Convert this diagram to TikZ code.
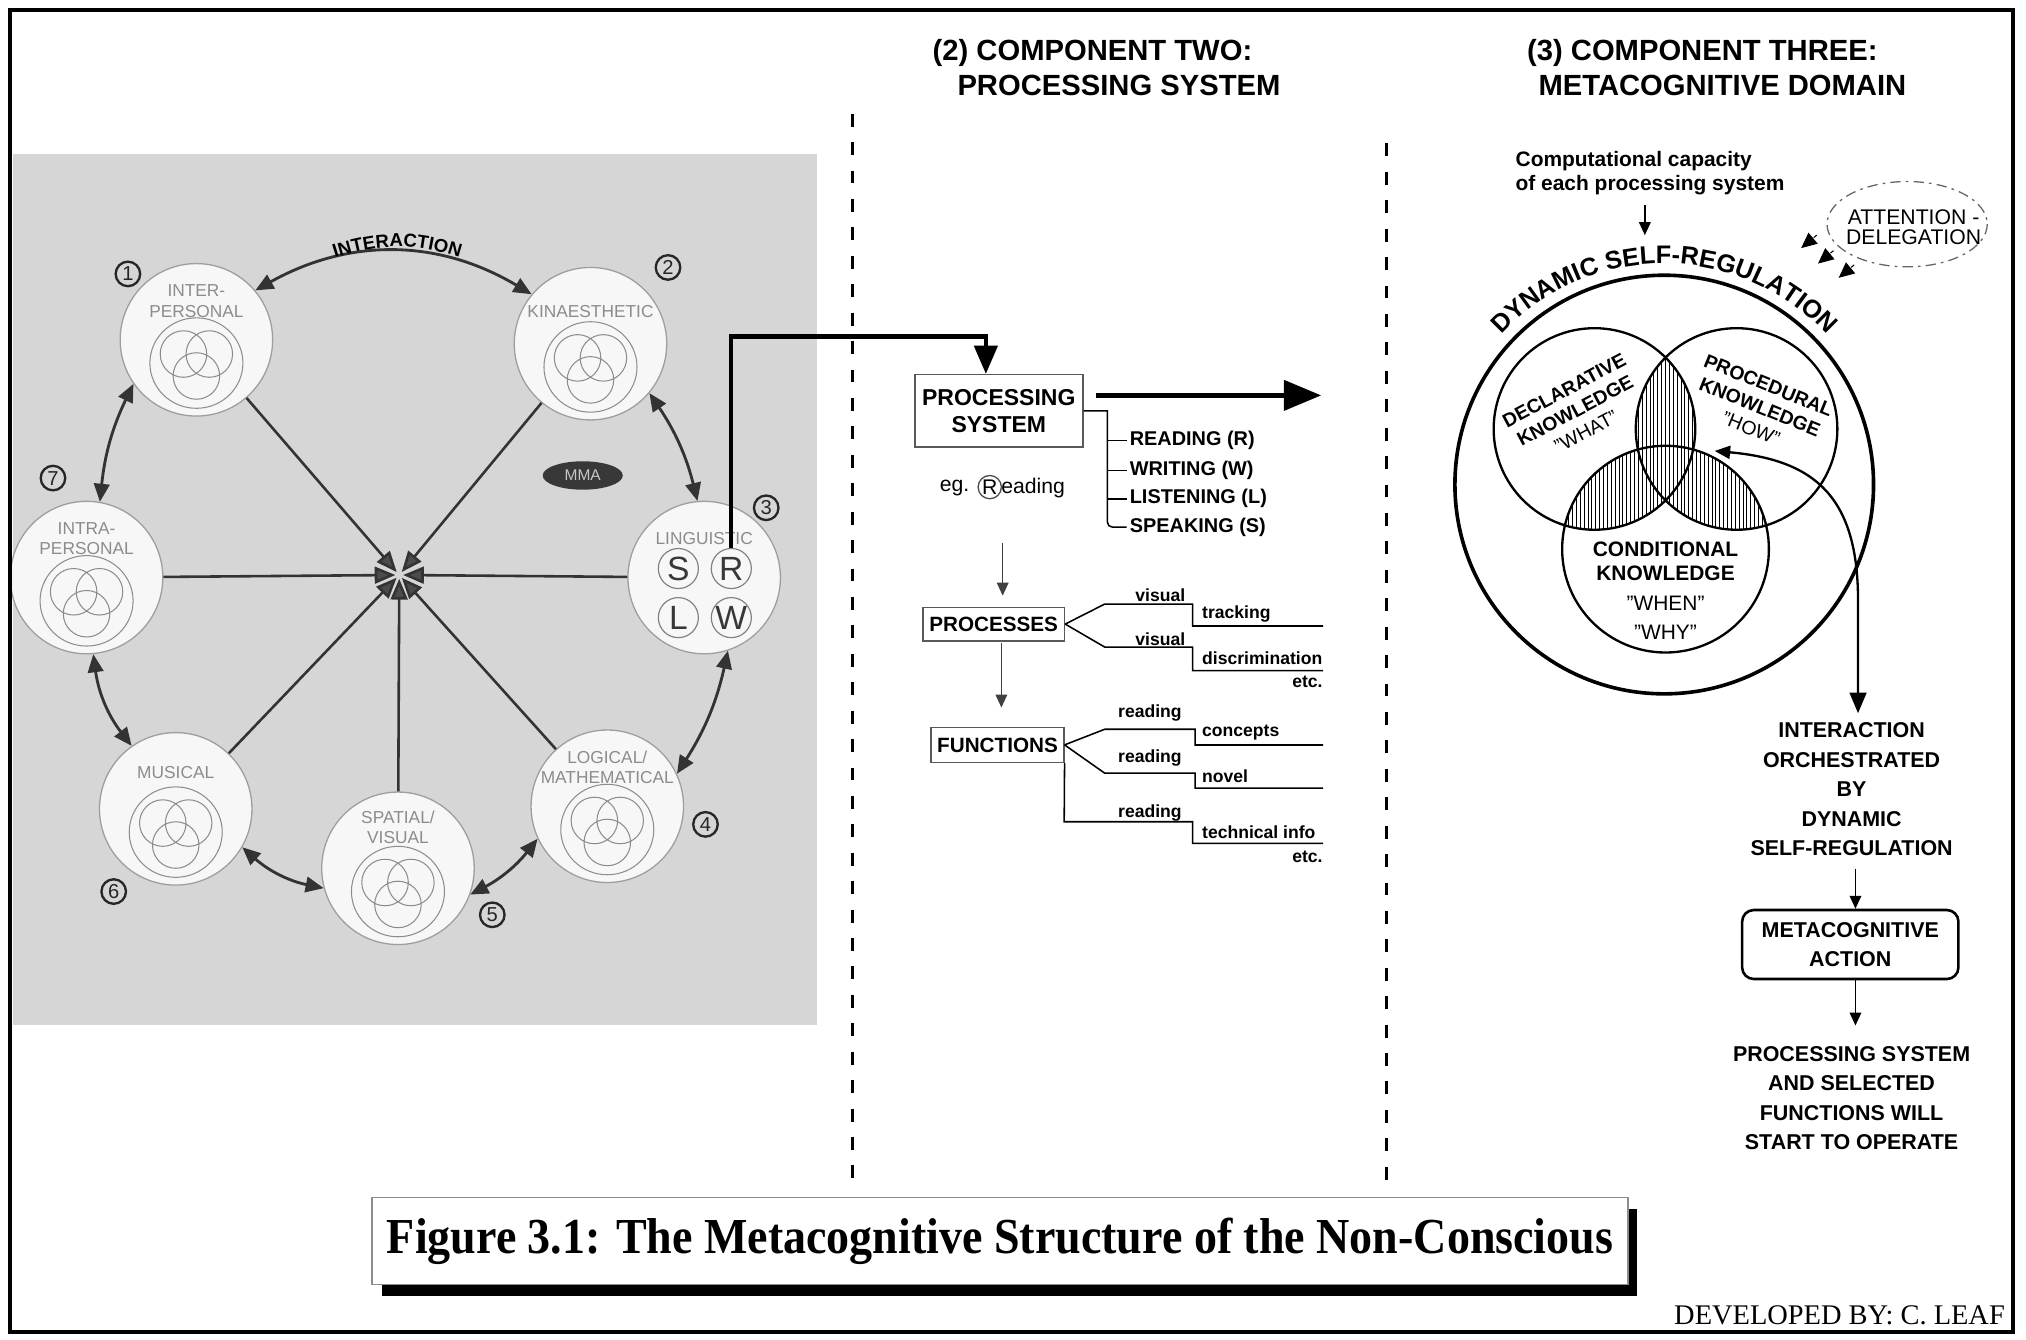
\documentclass[tikz,border=0pt]{standalone}
\usepackage{fontspec}
\setmainfont{Liberation Sans}
\newfontfamily\titleserif{Liberation Serif}
\usetikzlibrary{arrows.meta,shapes.geometric,decorations.text,calc}
\newcommand\fsz[2]{\fontsize{#1}{#2}\selectfont}

\begin{document}
\begin{tikzpicture}[x=0.5pt,y=-0.5pt,
  bubble/.style={ellipse, draw=black!38, line width=0.5pt, fill=black!3,
    minimum width=59pt, minimum height=59pt, inner sep=0pt},
  bublabel/.style={text=black!45, font=\fsz{6.7}{7.8}, align=center, inner sep=0pt},
  venn/.style={draw=black!45, line width=0.4pt},
  numc/.style={circle, draw=black!85, line width=0.9pt, minimum size=9.5pt,
    inner sep=0pt, font=\fsz{7.8}{8}, text=black!85},
  letc/.style={circle, draw=black!50, line width=0.45pt, minimum size=15.5pt,
    inner sep=0pt, font=\fsz{13}{13}, text=black!78},
  link/.style={draw=black!80, line width=1.1pt,
    {Triangle[length=7pt,width=6pt]}-{Triangle[length=7pt,width=6pt]}},
  spoke/.style={draw=black!80, line width=1pt,
    -{Triangle[length=8pt,width=6.5pt,fill=black!70]}, shorten >=1.5pt},
  bigconn/.style={line width=1.6pt, -{Triangle[length=11pt,width=9pt]}},
  widearrow/.style={line width=2pt, -{Triangle[length=14.5pt,width=11.5pt]}},
  thinarrow/.style={draw=black!75, line width=0.5pt, -{Triangle[length=5pt,width=4.5pt]}},
  branch/.style={line width=0.6pt},
  sbox/.style={draw=black!65, line width=0.6pt, inner sep=0pt, font=\bfseries\fsz{8}{10.5}, align=center},
  item/.style={font=\bfseries\fsz{7.7}{9}, anchor=west, inner sep=0pt},
  small/.style={font=\bfseries\fsz{6.8}{8}, inner sep=0pt},
  head/.style={font=\bfseries\fsz{11.3}{13}, inner sep=0pt},
  col/.style={font=\bfseries\fsz{8.3}{11.4}, align=center, inner sep=0pt},
  sep/.style={line width=1.1pt, dash pattern=on 5pt off 6pt},
  hatch/.style={line width=0.35pt},
]
\useasboundingbox (0,0) rectangle (1568,1037);
\fill[white] (0,0) rectangle (1568,1037);

% ---------------- component one: the seven intelligences ----------------
\fill[black!16] (10,119) rectangle (632,793);
\coordinate (hub) at (309,445);

\node[bubble] (c1) at (152,263) {};
\node[bubble] (c2) at (457,266) {};
\node[bubble] (c3) at (545,447) {};
\node[bubble] (c4) at (470,624) {};
\node[bubble] (c5) at (308,672) {};
\node[bubble] (c6) at (136,626) {};
\node[bubble] (c7) at (67,447) {};

% small Venn emblem inside each bubble
\foreach \c in {c1,c2,c4,c5,c6,c7}{
  \begin{scope}[shift={(\c)}]
    \draw[venn] (0,18) ellipse [x radius=36, y radius=35];
    \draw[venn] (-10,11) circle [radius=18] (10,11) circle [radius=18] (0,28) circle [radius=18];
  \end{scope}}

\node[bublabel] at ($(c1)+(0,-30)$) {INTER-\\PERSONAL};
\node[bublabel] at ($(c2)+(0,-25)$) {KINAESTHETIC};
\node[bublabel] at ($(c3)+(0,-30)$) {LINGUISTIC};
\node[bublabel] at ($(c4)+(0,-30)$) {LOGICAL/\\MATHEMATICAL};
\node[bublabel] at ($(c5)+(0,-32)$) {SPATIAL/\\VISUAL};
\node[bublabel] at ($(c6)+(0,-28)$) {MUSICAL};
\node[bublabel] at ($(c7)+(0,-30)$) {INTRA-\\PERSONAL};

% the four language systems
\node[letc] (Sc) at (525,440) {S};
\node[letc] (Rc) at (566,440) {R};
\node[letc] (Lc) at (525,478) {L};
\node[letc] (Wc) at (566,478) {W};

% spokes into the centre
\foreach \c in {c1,c2,c3,c4,c5,c6,c7}
  \draw[spoke] (\c) -- (hub);

% interactions between neighbours
\draw[link] (c1.40) to[bend left=30] (c2.140);
\draw[link] (c1.215) to[bend right=10] (c7.80);
\draw[link] (c7.-85) to[bend right=15] (c6.125);
\draw[link] (c6.-30) to[bend right=15] (c5.195);
\draw[link] (c5.-20) to[bend right=12] (c4.205);
\draw[link] (c4.25) to[bend right=10] (c3.-72);
\draw[link] (c3.95) to[bend right=10] (c2.-40);

\path[decorate, decoration={text along path, text align=center,
  text={|\bfseries\fsz{7.2}{8}|INTERACTION}}] (258,200) to[bend left=18] (357,200);

\node[numc] (n1) at (99,212) {1};
\node[numc] (n2) at (517,207) {2};
\node[numc] (n3) at (593,393) {3};
\node[numc] (n4) at (546,638) {4};
\node[numc] (n5) at (381,708) {5};
\node[numc] (n6) at (88,690) {6};
\node[numc] (n7) at (41,370) {7};

\node[ellipse, fill=black!78, minimum width=31pt, minimum height=11pt, inner sep=0pt,
  text=black!22, font=\fsz{6}{6}] (mma) at (451,368) {MMA};

% ---------------- column separators ----------------
\draw[sep] (660,88) -- (660,915);
\draw[sep] (1073,111) -- (1073,915);

% ---------------- component two: processing system ----------------
\node[head] (h2a) at (845.5,41) {(2) COMPONENT TWO:};
\node[head] (h2b) at (866,66) {PROCESSING SYSTEM};

\node[sbox, font=\bfseries\fsz{8.9}{10.6}, minimum width=65pt, minimum height=28pt] (ps) at (773,318) {PROCESSING\\SYSTEM};

\draw[bigconn] (Rc.north) |- ($(ps.north)+(-10,-29)$) -- ($(ps.north)+(-10,0)$);
\draw[widearrow] ($(ps.east)+(10,-12)$) -- ($(ps.east)+(184,-12)$);

\node[item] (rd) at (874,341) {READING (R)};
\node[item] (wr) at (874,364) {WRITING (W)};
\node[item] (li) at (874,386) {LISTENING (L)};
\node[item] (sp) at (874,408) {SPEAKING (S)};
\draw[branch] (ps.east) -| (857,403) [rounded corners=2pt] -- (857,408) -- ($(sp.west)+(-2,0)$);
\foreach \n in {rd,wr,li}
  \draw[branch] ($(\n.west)+(-2,0)$) -- ($(\n.west)+(-17,0)$);

\node[anchor=west, inner sep=0pt, font=\fsz{8.2}{9}] (eg) at (727,378) {eg.};
\node[circle, draw=black!70, line width=0.5pt, minimum size=9pt, inner sep=0pt, font=\fsz{8.2}{9}] (egR) at (766,377) {R};
\node[anchor=west, inner sep=0pt, font=\fsz{8.2}{9}] (egt) at (774.5,378) {eading};

\node[sbox, minimum width=54.8pt, minimum height=13pt] (proc) at (769,483) {PROCESSES};
\node[sbox, minimum width=51.3pt, minimum height=13.5pt] (func) at (772,576.5) {FUNCTIONS};

\coordinate (a1s) at (776,420);
\coordinate (a1e) at (776,461);
\draw[thinarrow] (a1s) -- (a1e);
\draw[thinarrow] ($(proc.south)+(6,1)$) -- ($(proc.south)+(6,51)$);

% processes
\draw[branch] (proc.east) -- (855,467.5) -- (923,467.5) -- (923,484.5) -- (1024,484.5);
\draw[branch] (proc.east) -- (855,500.8) -- (923,500.8) -- (923,519) -- (1024,519);
\node[small] (pv1) at (898,461) {visual};
\node[small, anchor=west] (pt1) at (930,475) {tracking};
\node[small] (pv2) at (898,495) {visual};
\node[small, anchor=west] (pt2) at (930,509.5) {discrimination};
\node[small, anchor=east] (pe) at (1024,528) {etc.};

% functions
\draw[branch] (func.east) -- (855,564.4) -- (925,564.4) -- (925,576.6) -- (1024,576.6);
\draw[branch] (func.east) -- (855,598.4) -- (925,598.4) -- (925,610) -- (1024,610);
\draw[branch] (func.south east) -- (823.6,636) -- (923,636) -- (923,652.7) -- (1024,652.7);
\node[small] (fr1) at (890,552) {reading};
\node[small, anchor=west] (ft1) at (930,567) {concepts};
\node[small] (fr2) at (890,587) {reading};
\node[small, anchor=west] (ft2) at (930,601) {novel};
\node[small] (fr3) at (890,629) {reading};
\node[small, anchor=west] (ft3) at (930,644) {technical info};
\node[small, anchor=east] (fe) at (1024,663) {etc.};

% ---------------- component three: metacognitive domain ----------------
\node[head] (h3a) at (1317.5,41) {(3) COMPONENT THREE:};
\node[head] (h3b) at (1333,66) {METACOGNITIVE DOMAIN};

\node[font=\bfseries\fsz{8.1}{9}, align=left, inner sep=0pt] (cc) at (1277,134)
  {Computational capacity\\of each processing system};
\coordinate (ccend) at (1273,182);
\draw[thinarrow, draw=black] (cc.south -| ccend) ++(0,8) -- (ccend);

\draw[black!60, line width=0.5pt, dash pattern=on 4pt off 2pt on 1pt off 2pt] (1476,173.5) ellipse [x radius=62, y radius=33];
\node[font=\fsz{8.2}{7.9}, align=center, inner sep=0pt] (att) at (1481,176) {ATTENTION -\\DELEGATION};
\foreach \tx/\ty in {1394/192, 1407/204, 1423/215}{
  \coordinate (tip) at (\tx,\ty);
  \draw[black, line width=0.4pt, dash pattern=on 1.5pt off 1pt,
    -{Triangle[length=6pt,width=5.5pt,sep=0pt]}] ($(tip)+(12,-10)$) -- (tip);
}

\coordinate (bigc) at (1288,375);
\coordinate (dk) at (1234,332);
\coordinate (pk) at (1344,332);
\coordinate (ck) at (1289,425);

% hatched overlaps
\begin{scope}
  \clip (dk) circle [radius=78]; \clip (pk) circle [radius=78];
  \foreach \x in {1205,1208,...,1375} \draw[hatch] (\x,240) -- (\x,520);
\end{scope}
\begin{scope}
  \clip (dk) circle [radius=78]; \clip (ck) circle [radius=80];
  \foreach \x in {1205,1208,...,1375} \draw[hatch] (\x,240) -- (\x,520);
\end{scope}
\begin{scope}
  \clip (pk) circle [radius=78]; \clip (ck) circle [radius=80];
  \foreach \x in {1205,1208,...,1375} \draw[hatch] (\x,240) -- (\x,520);
\end{scope}

\draw[line width=0.9pt] (dk) circle [radius=78] (pk) circle [radius=78] (ck) circle [radius=80];
\draw[line width=1.4pt] (bigc) circle [radius=162];

\path[decorate, decoration={text along path, text align=center,
  text={|\bfseries\fsz{9.8}{10}|DYNAMIC SELF-REGULATION}}]
  ($(bigc)+(-138:171)$) arc [start angle=-138, end angle=-42, radius=171];

\node[rotate=28, align=center, font=\bfseries\fsz{7.5}{9}, inner sep=0pt] (decl) at (1219,318)
  {DECLARATIVE\\KNOWLEDGE\\{\mdseries"WHAT"}};
\node[rotate=-22, align=center, font=\bfseries\fsz{7.5}{9}, inner sep=0pt] (proced) at (1362,315)
  {PROCEDURAL\\KNOWLEDGE\\{\mdseries"HOW"}};
\node[align=center, font=\bfseries\fsz{8.1}{9.5}, inner sep=0pt] (cond) at (1289,434.5)
  {CONDITIONAL\\KNOWLEDGE};
\node[align=center, font=\fsz{8.1}{11}, inner sep=0pt] (condq) at (1289,478)
  {"WHEN"\\"WHY"};

\coordinate (ci) at (1327,349);
\coordinate (ciend) at (1438,552);
\draw[line width=0.9pt, {Triangle[length=6pt,width=5pt]}-{Triangle[length=8pt,width=6.5pt]}]
  (ci) .. controls (1405,356) and (1438,385) .. (1438,465) -- (ciend);

\node[col] (orch) at (1433,611) {INTERACTION\\ORCHESTRATED\\BY\\DYNAMIC\\SELF-REGULATION};
\node[draw, rounded corners=4.5pt, line width=1pt, minimum width=83.7pt, minimum height=26.7pt,
  col] (meta) at (1432,731) {METACOGNITIVE\\ACTION};
\node[col] (res) at (1433,850) {PROCESSING SYSTEM\\AND SELECTED\\FUNCTIONS WILL\\START TO OPERATE};
\draw[thinarrow, draw=black] ($(meta.north)+(4,-31)$) -- ($(meta.north)+(4,0)$);
\draw[thinarrow, draw=black] ($(meta.south)+(4,0)$) -- ($(meta.south)+(4,35)$);

% ---------------- caption ----------------
\fill[black] (296,936) rectangle (1267,1003);
\node[draw=black!45, line width=0.5pt, fill=white, minimum width=486pt, minimum height=33.5pt,
  inner sep=0pt] (title) at (774,960.5)
  {\titleserif\bfseries\fsz{19.5}{22}\scalebox{0.913}[1]{Figure 3.1: The Metacognitive Structure of the Non-Conscious}};
\node[anchor=east, inner sep=0pt, font=\titleserif\fsz{11}{12}] (dev) at (1552,1018) {DEVELOPED BY: C. LEAF};

% outer frame
\draw[line width=1.6pt] (8,8) rectangle (1558,1031);
\end{tikzpicture}
\end{document}
